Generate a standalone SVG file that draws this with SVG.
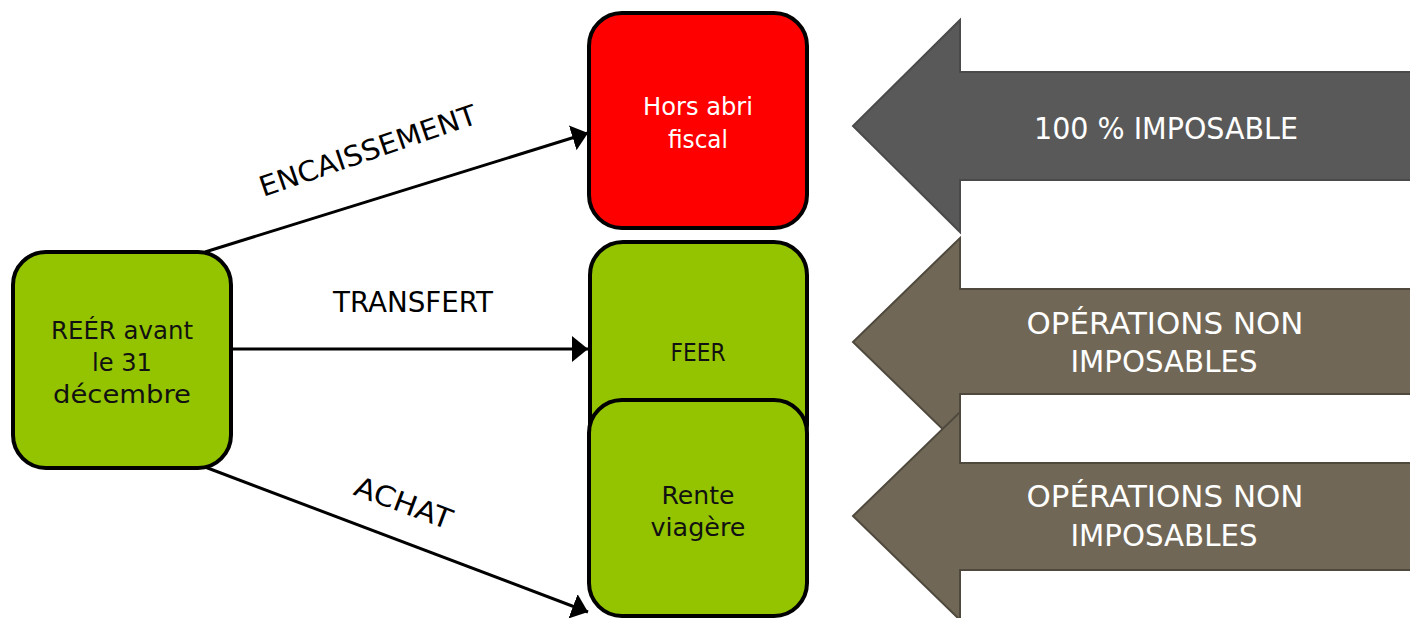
<svg xmlns="http://www.w3.org/2000/svg" width="1410" height="618" viewBox="0 0 1410 618">
<style>
.box{stroke:#000;stroke-width:4}
.green{fill:#94C400}
.red{fill:#FF0000}
.t{font-family:"DejaVu Sans","Liberation Sans",sans-serif;text-anchor:middle}
.bt{font-size:25px;fill:#111}
.wt{font-size:25px;fill:#fff}
.lbl{font-size:28px;fill:#000}
.at{font-size:30px;fill:#fff}
.conn{stroke:#000;stroke-width:3;fill:none}
.big1{fill:#595959;stroke:#4a4a4a;stroke-width:2}
.big2{fill:#706757;stroke:#4f493d;stroke-width:2}
</style>
<defs>
<marker id="ah" markerUnits="userSpaceOnUse" markerWidth="16" markerHeight="26" viewBox="0 0 16 26" refX="16" refY="13" orient="auto">
<path d="M0,0 L16,13 L0,26 z" fill="#000"/>
</marker>
</defs>
<rect width="1410" height="618" fill="#fff"/>

<g id="connectors">
<line class="conn" x1="205" y1="252" x2="588" y2="133" marker-end="url(#ah)"/>
<line class="conn" x1="231" y1="349" x2="588" y2="349" marker-end="url(#ah)"/>
<line class="conn" x1="205" y1="467" x2="588" y2="612" marker-end="url(#ah)"/>
<text class="t lbl" transform="translate(371,160) rotate(-19)" textLength="228" lengthAdjust="spacingAndGlyphs">ENCAISSEMENT</text>
<text class="t lbl" x="413" y="312" textLength="160" lengthAdjust="spacingAndGlyphs">TRANSFERT</text>
<text class="t lbl" transform="translate(400,512) rotate(20.5)" textLength="102" lengthAdjust="spacingAndGlyphs">ACHAT</text>
</g>

<g id="reer">
<rect class="box green" x="13" y="252" width="218" height="216" rx="33"/>
<text class="t bt" x="122" y="339" textLength="142" lengthAdjust="spacingAndGlyphs">REÉR avant</text>
<text class="t bt" x="122" y="371" textLength="60" lengthAdjust="spacingAndGlyphs">le 31</text>
<text class="t bt" x="122" y="403" textLength="138" lengthAdjust="spacingAndGlyphs">décembre</text>
</g>

<g id="hors-abri">
<rect class="box red" x="589" y="13" width="218" height="215" rx="33"/>
<text class="t wt" x="698" y="115" textLength="110" lengthAdjust="spacingAndGlyphs">Hors abri</text>
<text class="t wt" x="698" y="148" textLength="60" lengthAdjust="spacingAndGlyphs">fiscal</text>
</g>

<g id="feer">
<rect class="box green" x="590" y="242" width="217" height="216" rx="33"/>
<text class="t bt" x="698" y="361" textLength="55" lengthAdjust="spacingAndGlyphs">FEER</text>
</g>

<g id="rente">
<rect class="box green" x="589" y="400" width="218" height="216" rx="33"/>
<text class="t bt" x="698" y="504" textLength="73" lengthAdjust="spacingAndGlyphs">Rente</text>
<text class="t bt" x="698" y="536" textLength="95" lengthAdjust="spacingAndGlyphs">viagère</text>
</g>

<g id="arrow-imposable">
<path class="big1" d="M1412,72 L960,72 L960,20 L853,126 L960,232 L960,180 L1412,180 z"/>
<text class="t at" x="1166" y="139" textLength="264" lengthAdjust="spacingAndGlyphs">100 % IMPOSABLE</text>
</g>

<g id="arrow-feer">
<path class="big2" d="M1412,289 L960,289 L960,238 L853,342 L960,446 L960,394 L1412,394 z"/>
<text class="t at" x="1165" y="334" textLength="277" lengthAdjust="spacingAndGlyphs">OPÉRATIONS NON</text>
<text class="t at" x="1164" y="372" textLength="187" lengthAdjust="spacingAndGlyphs">IMPOSABLES</text>
</g>

<g id="arrow-rente">
<path class="big2" d="M1412,463 L960,463 L960,412 L853,516 L960,620 L960,570 L1412,570 z"/>
<text class="t at" x="1165" y="507" textLength="277" lengthAdjust="spacingAndGlyphs">OPÉRATIONS NON</text>
<text class="t at" x="1164" y="546" textLength="187" lengthAdjust="spacingAndGlyphs">IMPOSABLES</text>
</g>
</svg>
